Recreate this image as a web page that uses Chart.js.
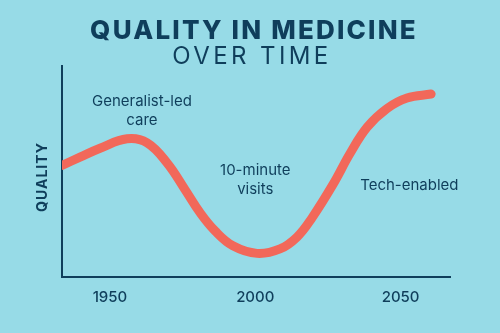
<!DOCTYPE html>
<html>
<head>
<meta charset="utf-8">
<script src="https://cdn.jsdelivr.net/npm/chart.js@4.4.1/dist/chart.umd.min.js"></script>
<style>
  html, body { margin: 0; padding: 0; background: #97dbe7; }
  #wrap { width: 500px; height: 333px; position: relative; }
</style>
</head>
<body>
<div id="wrap"><canvas id="c" width="500" height="333"></canvas></div>
<script>
// ---- data ----
const years   = [1933.5, 1939.7, 1946.6, 1955.9, 1962.8, 1969.7, 1975.8, 1981.0, 1986.2, 1992.3,
                 2000.6, 2008.5, 2014.4, 2019.5, 2026.8, 2032.6, 2038.5, 2045.3, 2052.2, 2060.5];
const quality = [52.9, 56.8, 61, 65.5, 63.6, 54, 41.5, 30.5, 21.8, 14.8,
                 11.2, 13.3, 19, 28, 44, 58.5, 71, 79.8, 84.8, 86.7];
const tickYears = [1950, 2000, 2050];
const titleMain = "QUALITY IN MEDICINE";
const titleSub = "OVER TIME";
const yTitle = "QUALITY";
const annotations = [
  { lines: ["Generalist-led", "care"], x: 1961, y: 83 },
  { lines: ["10-minute", "visits"], x: 2000, y: 50.5 },
  { lines: ["Tech-enabled"], x: 2053, y: 43.5 }
];

const INK = "#0f3e5b";

const textPlugin = {
  id: "texts",
  afterDraw(chart) {
    const ctx = chart.ctx;
    const xs = chart.scales.x, ys = chart.scales.y;
    ctx.save();
    ctx.fillStyle = INK;
    ctx.textAlign = "center";
    ctx.textBaseline = "middle";
    // titles
    ctx.font = "800 26px Inter";
    ctx.letterSpacing = "2.2px";
    ctx.fillText(titleMain, 254, 31);
    ctx.font = "400 24px Inter";
    ctx.letterSpacing = "3.4px";
    ctx.fillText(titleSub, 252, 57);
    ctx.letterSpacing = "0px";
    // y title
    ctx.save();
    ctx.translate(43, 177);
    ctx.rotate(-Math.PI / 2);
    ctx.font = "700 14px Inter";
    ctx.letterSpacing = "1px";
    ctx.fillText(yTitle, 0, 0);
    ctx.restore();
    // annotations
    ctx.font = "400 15px Inter";
    ctx.letterSpacing = "0px";
    annotations.forEach(a => {
      const px = xs.getPixelForValue(a.x);
      const py = ys.getPixelForValue(a.y);
      a.lines.forEach((l, i) => ctx.fillText(l, px, py + i * 19));
    });
    ctx.restore();
  }
};

new Chart(document.getElementById("c"), {
  type: "line",
  data: {
    datasets: [{
      data: years.map((y, i) => ({ x: y, y: quality[i] })),
      borderColor: "#f2685a",
      borderWidth: 9,
      borderCapStyle: "round",
      borderJoinStyle: "round",
      pointRadius: 0,
      tension: 0.4,
      fill: false
    }]
  },
  options: {
    responsive: false,
    animation: false,
    layout: { padding: { top: 66, left: 62, right: 50, bottom: 16 } },
    plugins: { legend: { display: false }, tooltip: { enabled: false } },
    scales: {
      x: {
        type: "linear",
        min: 1933.5,
        max: 2067,
        afterBuildTicks: (s) => { s.ticks = tickYears.map(v => ({ value: v })); },
        grid: { display: false, drawTicks: false },
        border: { display: true, color: INK, width: 2 },
        ticks: { color: INK, font: { family: "Inter", size: 15, weight: "500" }, padding: 11, maxRotation: 0,
                 callback: (v) => String(v) }
      },
      y: {
        min: 0, max: 100,
        grid: { display: false, drawTicks: false },
        border: { display: true, color: INK, width: 2 },
        ticks: { display: false }
      }
    }
  },
  plugins: [textPlugin]
});
</script>
</body>
</html>
